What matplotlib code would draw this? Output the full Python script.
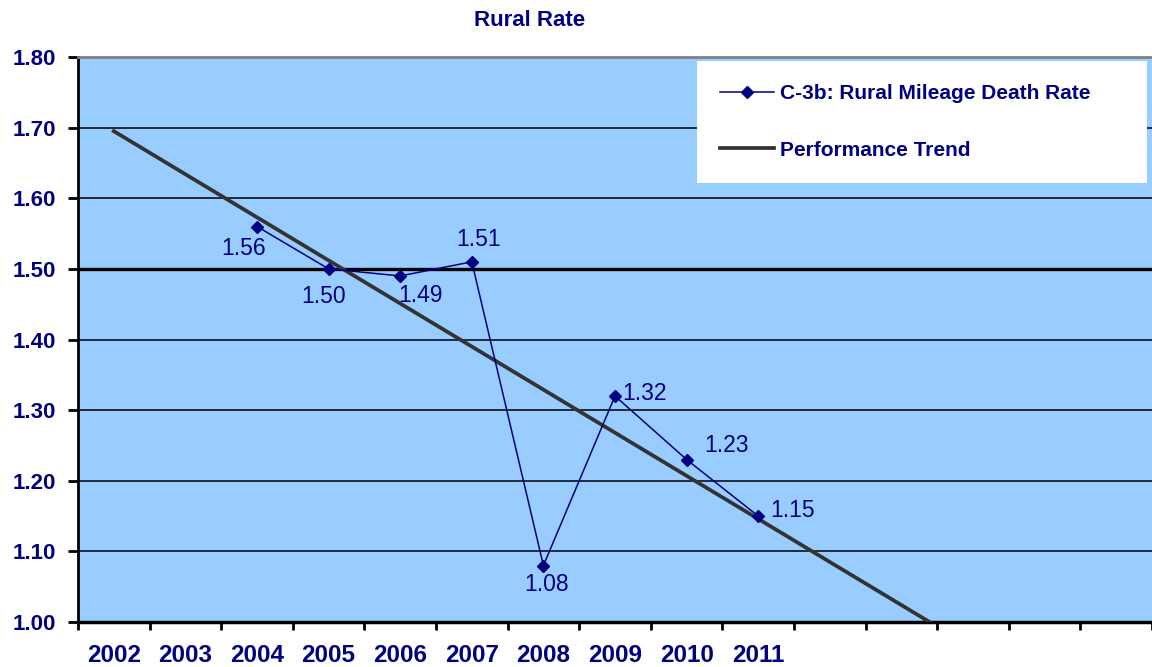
import numpy as np
import matplotlib
matplotlib.use("Agg")
import matplotlib.pyplot as plt

# data
categories = ['2002', '2003', '2004', '2005', '2006', '2007', '2008',
              '2009', '2010', '2011', '', '', '', '', '']
rate_years = ['2004', '2005', '2006', '2007', '2008', '2009', '2010', '2011']
rate_values = [1.56, 1.50, 1.49, 1.51, 1.08, 1.32, 1.23, 1.15]
trend_values = [1.695, 1.634, 1.573, 1.512, 1.451, 1.390, 1.329,
                1.268, 1.207, 1.146, 1.085, 1.024, 0.963]
target = 1.50

navy = '#000080'
bg = '#99CCFF'
plt.rcParams['font.family'] = ['Liberation Sans', 'DejaVu Sans']

fig = plt.figure(figsize=(11.52, 6.67), dpi=100)
w, h = 1152, 667
ax = fig.add_axes([78/w, 1-622/h, 1-78/w, (622-57)/h])
ax.set_facecolor(bg)

xi = [categories.index(y) for y in rate_years]
xt = np.arange(len(trend_values))

for v in np.arange(1.1, 1.8, 0.1):
    ax.axhline(v, color='black', lw=1.1, zorder=1)
ax.axhline(target, color='black', lw=2.4, zorder=2)

ax.plot(xt, trend_values, color='#333333', lw=2.7, zorder=3,
        label='Performance Trend')
ax.plot(xi, rate_values, color=navy, lw=1.1, marker='D', ms=6.5,
        zorder=4, label='C-3b: Rural Mileage Death Rate')

offsets = [(-13, -22), (-5, -28), (20, -20), (7, 22),
           (3, -19), (30, 3), (40, 14), (34, 6)]
for x, v, off in zip(xi, rate_values, offsets):
    ax.annotate('%.2f' % v, (x, v), xytext=off, textcoords='offset pixels',
                ha='center', va='center', color=navy, fontsize=16.5,
                zorder=5)

ax.set_xlim(-0.5, 14.4)
ax.set_ylim(1.0, 1.8)
ax.set_yticks(np.arange(1.0, 1.81, 0.1))
ax.set_yticklabels(['%.2f' % v for v in np.arange(1.0, 1.81, 0.1)])
ax.set_xticks(np.arange(-0.5, 15, 1))
ax.set_xticklabels([])
ax.set_xticks(np.arange(len(categories)), minor=True)
ax.set_xticklabels(categories, minor=True)
ax.tick_params(axis='x', which='major', length=6, width=2, direction='out')
ax.tick_params(axis='x', which='minor', length=0, pad=16,
               labelsize=17.5, labelcolor=navy)
ax.tick_params(axis='y', length=7, width=2, pad=9, labelsize=16,
               labelcolor=navy)
for lab in ax.get_xticklabels(minor=True) + ax.get_yticklabels():
    lab.set_fontweight('bold')

ax.spines['top'].set_color('#808080')
ax.spines['top'].set_linewidth(2)
ax.spines['right'].set_visible(False)
ax.spines['left'].set_linewidth(2)
ax.spines['bottom'].set_linewidth(2.5)

handles, labels = ax.get_legend_handles_labels()
leg = fig.legend(handles[::-1], labels[::-1], loc='upper left',
                 bbox_to_anchor=(697/w, 1-62/h, 450/w, 0.001), mode='expand',
                 borderaxespad=0, frameon=True, fancybox=False, framealpha=1,
                 edgecolor='white', facecolor='white',
                 prop={'size': 15, 'weight': 'bold'},
                 handlelength=2.6, handletextpad=0.3,
                 labelspacing=1.8, borderpad=1.1)
for t in leg.get_texts():
    t.set_color(navy)
leg.get_frame().set_linewidth(0)

fig.text(530/w, 1-21/h, 'Rural Rate', ha='center', va='center',
         color=navy, fontsize=16, fontweight='bold')

fig.savefig('out.png', dpi=100)
